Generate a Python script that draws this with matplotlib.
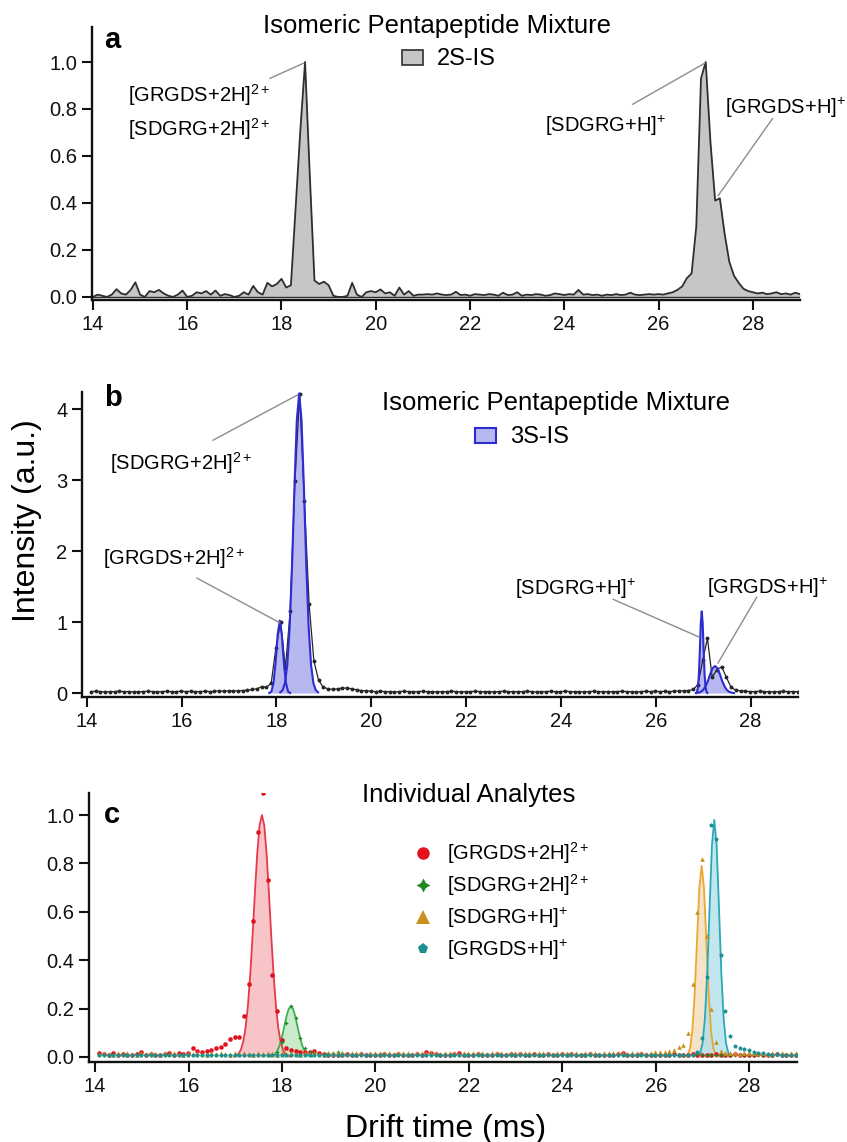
"""Drift-time spectra of the isomeric pentapeptide mixture (three stacked panels)."""

import matplotlib.pyplot as plt
import numpy as np
from matplotlib.lines import Line2D
from matplotlib.patches import Rectangle

plt.rcParams["font.family"] = ["Liberation Sans", "DejaVu Sans"]
plt.rcParams["mathtext.fontset"] = "custom"
plt.rcParams["mathtext.rm"] = "Liberation Sans"
plt.rcParams["mathtext.it"] = "Liberation Sans:italic"
plt.rcParams["mathtext.bf"] = "Liberation Sans:bold"

W, H = 847, 1142

# ---------------------------------------------------------------- panel a data
# 2S-IS trace, one value every 0.1 ms from 14.0 to 29.0
a_time = np.linspace(14.0, 29.0, 151)
a_int = [
    0.000, 0.010, 0.005, 0.000, 0.010, 0.033, 0.015, 0.010, 0.030, 0.062,  # 14.0
    0.010, 0.000, 0.025, 0.020, 0.030, 0.015, 0.005, 0.000, 0.010, 0.027,  # 15.0
    0.000, 0.005, 0.020, 0.015, 0.025, 0.010, 0.027, 0.005, 0.012, 0.008,  # 16.0
    0.000, 0.005, 0.020, 0.010, 0.047, 0.020, 0.010, 0.060, 0.045, 0.055,  # 17.0
    0.077, 0.040, 0.050, 0.380, 0.710, 1.000, 0.520, 0.070, 0.055, 0.065,  # 18.0
    0.050, 0.005, 0.000, 0.000, 0.005, 0.060, 0.010, 0.000, 0.020, 0.025,  # 19.0
    0.020, 0.032, 0.015, 0.020, 0.005, 0.040, 0.010, 0.025, 0.005, 0.010,  # 20.0
    0.010, 0.012, 0.010, 0.015, 0.010, 0.008, 0.010, 0.022, 0.008, 0.010,  # 21.0
    0.005, 0.012, 0.010, 0.008, 0.012, 0.010, 0.005, 0.018, 0.008, 0.010,  # 22.0
    0.020, 0.005, 0.010, 0.008, 0.012, 0.010, 0.005, 0.008, 0.015, 0.012,  # 23.0
    0.008, 0.012, 0.010, 0.030, 0.010, 0.012, 0.008, 0.010, 0.005, 0.010,  # 24.0
    0.008, 0.012, 0.008, 0.010, 0.018, 0.010, 0.008, 0.010, 0.012, 0.010,  # 25.0
    0.012, 0.010, 0.015, 0.020, 0.030, 0.045, 0.080, 0.100, 0.300, 0.930,  # 26.0
    1.000, 0.660, 0.410, 0.420, 0.270, 0.150, 0.090, 0.060, 0.035, 0.025,  # 27.0
    0.020, 0.015, 0.018, 0.012, 0.015, 0.020, 0.012, 0.015, 0.010, 0.018,  # 28.0
    0.012,
]

# ---------------------------------------------------------------- panel b data
# 3S-IS measured trace, every 0.1 ms from 14.09 to 28.99
b_time = np.linspace(14.09, 28.99, 150)
b_int = [
    0.020, 0.025, 0.020, 0.015, 0.020, 0.020, 0.025, 0.020, 0.020, 0.015,  # 14.09
    0.020, 0.020, 0.025, 0.020, 0.015, 0.020, 0.025, 0.020, 0.020, 0.025,  # 15.09
    0.020, 0.025, 0.020, 0.020, 0.025, 0.020, 0.025, 0.030, 0.025, 0.030,  # 16.09
    0.030, 0.030, 0.035, 0.040, 0.050, 0.060, 0.090, 0.080, 0.140, 0.640,  # 17.09
    1.000, 0.350, 1.150, 2.980, 4.210, 2.700, 1.250, 0.450, 0.180, 0.080,  # 18.09
    0.060, 0.050, 0.060, 0.070, 0.070, 0.060, 0.045, 0.035, 0.030, 0.025,  # 19.09
    0.020, 0.025, 0.020, 0.020, 0.015, 0.020, 0.025, 0.020, 0.020, 0.020,  # 20.09
    0.025, 0.020, 0.020, 0.015, 0.020, 0.020, 0.025, 0.020, 0.015, 0.020,  # 21.09
    0.020, 0.025, 0.020, 0.020, 0.020, 0.015, 0.020, 0.025, 0.020, 0.020,  # 22.09
    0.020, 0.020, 0.025, 0.020, 0.015, 0.020, 0.020, 0.025, 0.020, 0.020,  # 23.09
    0.025, 0.020, 0.020, 0.020, 0.015, 0.020, 0.025, 0.020, 0.020, 0.020,  # 24.09
    0.020, 0.020, 0.025, 0.020, 0.020, 0.015, 0.020, 0.025, 0.020, 0.025,  # 25.09
    0.020, 0.025, 0.020, 0.025, 0.030, 0.030, 0.035, 0.050, 0.120, 0.460,  # 26.09
    0.770, 0.220, 0.330, 0.370, 0.220, 0.080, 0.040, 0.030, 0.025, 0.020,  # 27.09
    0.020, 0.025, 0.020, 0.020, 0.015, 0.020, 0.025, 0.020, 0.020, 0.020,  # 28.09
]

# fitted peak profiles (time, intensity) drawn in blue
b_fit1_t = np.linspace(17.85, 18.29, 11)
b_fit1_y = [0.00, 0.02, 0.14, 0.42, 0.82, 1.02, 0.82, 0.42, 0.14, 0.02, 0.00]
b_fit2_t = np.linspace(18.08, 18.88, 17)
b_fit2_y = [0.01, 0.04, 0.14, 0.40, 0.93, 1.80, 2.89, 3.84, 4.22,
            3.84, 2.89, 1.80, 0.93, 0.40, 0.14, 0.04, 0.01]
b_fit3_t = np.linspace(26.85, 27.09, 13)
b_fit3_y = [0.00, 0.02, 0.08, 0.26, 0.60, 0.98, 1.15, 0.98, 0.60, 0.26, 0.08, 0.02, 0.00]
b_fit4_t = np.linspace(26.85, 27.65, 17)
b_fit4_y = [0.000, 0.005, 0.017, 0.043, 0.095, 0.170, 0.270, 0.350, 0.380,
            0.350, 0.270, 0.170, 0.095, 0.043, 0.017, 0.005, 0.000]

# ---------------------------------------------------------------- panel c data
c_time = np.linspace(14.09, 28.99, 150)
c_grgds_2h = [
    0.015, 0.012, 0.010, 0.015, 0.010, 0.012, 0.008, 0.010, 0.012, 0.022,  # 14.09
    0.010, 0.012, 0.008, 0.010, 0.012, 0.015, 0.010, 0.018, 0.012, 0.015,  # 15.09
    0.037, 0.025, 0.020, 0.025, 0.030, 0.035, 0.043, 0.055, 0.074, 0.084,  # 16.09
    0.081, 0.170, 0.300, 0.560, 0.930, 1.090, 0.730, 0.340, 0.190, 0.070,  # 17.09
    0.035, 0.030, 0.025, 0.020, 0.020, 0.022, 0.026, 0.015, 0.012, 0.010,  # 18.09
    0.010, 0.008, 0.010, 0.012, 0.008, 0.010, 0.012, 0.010, 0.008, 0.010,  # 19.09
    0.010, 0.012, 0.008, 0.010, 0.012, 0.010, 0.008, 0.010, 0.012, 0.010,  # 20.09
    0.020, 0.018, 0.012, 0.010, 0.008, 0.010, 0.012, 0.015, 0.010, 0.008,  # 21.09
    0.010, 0.012, 0.010, 0.008, 0.010, 0.012, 0.010, 0.010, 0.012, 0.010,  # 22.09
    0.012, 0.010, 0.008, 0.012, 0.010, 0.010, 0.012, 0.008, 0.010, 0.012,  # 23.09
    0.010, 0.012, 0.010, 0.008, 0.010, 0.012, 0.010, 0.008, 0.010, 0.010,  # 24.09
    0.010, 0.012, 0.015, 0.010, 0.008, 0.010, 0.012, 0.010, 0.008, 0.010,  # 25.09
    0.010, 0.008, 0.010, 0.012, 0.010, 0.008, 0.010, 0.012, 0.010, 0.010,  # 26.09
    0.008, 0.010, 0.012, 0.010, 0.008, 0.010, 0.012, 0.010, 0.008, 0.010,  # 27.09
    0.010, 0.012, 0.010, 0.008, 0.010, 0.012, 0.010, 0.008, 0.010, 0.010,  # 28.09
]
c_sdgrg_2h = [
    0.008, 0.010, 0.006, 0.008, 0.010, 0.008, 0.006, 0.008, 0.010, 0.008,  # 14.09
    0.006, 0.008, 0.010, 0.008, 0.006, 0.008, 0.010, 0.008, 0.006, 0.008,  # 15.09
    0.008, 0.006, 0.008, 0.010, 0.008, 0.006, 0.008, 0.010, 0.008, 0.008,  # 16.09
    0.006, 0.008, 0.010, 0.008, 0.006, 0.008, 0.010, 0.012, 0.020, 0.060,  # 17.09
    0.140, 0.210, 0.160, 0.080, 0.035, 0.020, 0.015, 0.010, 0.012, 0.015,  # 18.09
    0.018, 0.020, 0.015, 0.010, 0.008, 0.010, 0.008, 0.006, 0.008, 0.010,  # 19.09
    0.008, 0.006, 0.008, 0.010, 0.008, 0.006, 0.008, 0.010, 0.008, 0.006,  # 20.09
    0.008, 0.010, 0.008, 0.006, 0.008, 0.010, 0.008, 0.006, 0.008, 0.010,  # 21.09
    0.008, 0.006, 0.008, 0.010, 0.008, 0.006, 0.008, 0.010, 0.008, 0.006,  # 22.09
    0.008, 0.010, 0.008, 0.006, 0.008, 0.010, 0.008, 0.006, 0.008, 0.010,  # 23.09
    0.008, 0.006, 0.008, 0.010, 0.008, 0.006, 0.008, 0.010, 0.008, 0.006,  # 24.09
    0.008, 0.010, 0.008, 0.006, 0.008, 0.010, 0.008, 0.006, 0.008, 0.010,  # 25.09
    0.008, 0.006, 0.008, 0.010, 0.008, 0.006, 0.008, 0.010, 0.012, 0.010,  # 26.09
    0.008, 0.006, 0.008, 0.010, 0.008, 0.006, 0.008, 0.010, 0.008, 0.006,  # 27.09
    0.008, 0.010, 0.008, 0.006, 0.008, 0.010, 0.008, 0.006, 0.008, 0.010,  # 28.09
]
c_sdgrg_h = [
    0.012, 0.015, 0.012, 0.010, 0.015, 0.012, 0.015, 0.012, 0.010, 0.015,  # 14.09
    0.012, 0.015, 0.012, 0.010, 0.015, 0.012, 0.015, 0.012, 0.010, 0.015,  # 15.09
    0.012, 0.015, 0.012, 0.010, 0.015, 0.012, 0.015, 0.012, 0.010, 0.015,  # 16.09
    0.012, 0.015, 0.012, 0.010, 0.015, 0.012, 0.015, 0.012, 0.010, 0.015,  # 17.09
    0.012, 0.015, 0.012, 0.010, 0.015, 0.012, 0.015, 0.012, 0.010, 0.015,  # 18.09
    0.015, 0.018, 0.015, 0.012, 0.015, 0.018, 0.015, 0.012, 0.015, 0.018,  # 19.09
    0.015, 0.018, 0.015, 0.012, 0.015, 0.018, 0.015, 0.012, 0.015, 0.018,  # 20.09
    0.015, 0.018, 0.015, 0.012, 0.015, 0.018, 0.015, 0.012, 0.015, 0.018,  # 21.09
    0.015, 0.018, 0.015, 0.012, 0.015, 0.018, 0.015, 0.012, 0.015, 0.018,  # 22.09
    0.015, 0.018, 0.015, 0.012, 0.015, 0.018, 0.015, 0.012, 0.015, 0.018,  # 23.09
    0.015, 0.018, 0.015, 0.012, 0.015, 0.018, 0.015, 0.012, 0.015, 0.018,  # 24.09
    0.015, 0.018, 0.015, 0.012, 0.015, 0.018, 0.015, 0.012, 0.018, 0.020,  # 25.09
    0.020, 0.022, 0.025, 0.030, 0.040, 0.050, 0.100, 0.300, 0.600, 0.820,  # 26.09
    0.500, 0.200, 0.060, 0.025, 0.015, 0.018, 0.015, 0.012, 0.015, 0.018,  # 27.09
    0.015, 0.018, 0.015, 0.012, 0.015, 0.018, 0.015, 0.012, 0.015, 0.018,  # 28.09
]
c_grgds_h = [
    0.008, 0.006, 0.008, 0.010, 0.008, 0.006, 0.008, 0.010, 0.008, 0.006,  # 14.09
    0.008, 0.010, 0.008, 0.006, 0.008, 0.010, 0.008, 0.006, 0.008, 0.010,  # 15.09
    0.008, 0.006, 0.008, 0.010, 0.008, 0.006, 0.008, 0.010, 0.008, 0.006,  # 16.09
    0.008, 0.010, 0.008, 0.006, 0.008, 0.010, 0.008, 0.006, 0.008, 0.010,  # 17.09
    0.008, 0.006, 0.008, 0.010, 0.008, 0.006, 0.008, 0.010, 0.008, 0.006,  # 18.09
    0.008, 0.010, 0.008, 0.006, 0.008, 0.010, 0.008, 0.006, 0.008, 0.010,  # 19.09
    0.008, 0.006, 0.008, 0.010, 0.008, 0.006, 0.008, 0.010, 0.008, 0.006,  # 20.09
    0.008, 0.010, 0.008, 0.006, 0.008, 0.010, 0.008, 0.006, 0.008, 0.010,  # 21.09
    0.008, 0.006, 0.008, 0.010, 0.008, 0.006, 0.008, 0.010, 0.008, 0.006,  # 22.09
    0.008, 0.010, 0.008, 0.006, 0.008, 0.010, 0.008, 0.006, 0.008, 0.010,  # 23.09
    0.008, 0.006, 0.008, 0.010, 0.008, 0.006, 0.008, 0.010, 0.008, 0.006,  # 24.09
    0.008, 0.010, 0.008, 0.006, 0.008, 0.010, 0.008, 0.006, 0.008, 0.010,  # 25.09
    0.008, 0.006, 0.008, 0.010, 0.008, 0.006, 0.008, 0.010, 0.020, 0.080,  # 26.09
    0.330, 0.960, 0.900, 0.420, 0.190, 0.085, 0.045, 0.037, 0.032, 0.027,  # 27.09
    0.022, 0.018, 0.015, 0.012, 0.010, 0.012, 0.010, 0.008, 0.010, 0.008,  # 28.09
]

# fitted profiles for the individual analytes
c_fit_red_t = np.linspace(16.97, 18.17, 25)
c_fit_red_y = [0.002, 0.005, 0.013, 0.030, 0.063, 0.120, 0.211, 0.339, 0.500, 0.678,
               0.841, 0.958, 1.000, 0.958, 0.841, 0.678, 0.500, 0.339, 0.211, 0.120,
               0.063, 0.030, 0.013, 0.005, 0.002]
c_fit_green_t = np.linspace(17.74, 18.64, 19)
c_fit_green_y = [0.001, 0.004, 0.009, 0.021, 0.043, 0.076, 0.118, 0.163, 0.197, 0.210,
                 0.197, 0.163, 0.118, 0.076, 0.043, 0.021, 0.009, 0.004, 0.001]
c_fit_orange_t = np.linspace(26.63, 27.33, 15)
c_fit_orange_y = [0.002, 0.009, 0.035, 0.107, 0.260, 0.480, 0.700, 0.790,
                  0.700, 0.480, 0.260, 0.107, 0.035, 0.009, 0.002]
c_fit_teal_t = np.linspace(26.90, 27.60, 15)
c_fit_teal_y = [0.004, 0.017, 0.058, 0.160, 0.350, 0.620, 0.875, 0.980,
                0.875, 0.620, 0.350, 0.160, 0.058, 0.017, 0.004]

c_labels = [r"[GRGDS+2H]$^{2+}$", r"[SDGRG+2H]$^{2+}$", r"[SDGRG+H]$^{+}$", r"[GRGDS+H]$^{+}$"]

LEADER = "#8c8c8c"
LABEL_SIZE = 14.5


def fx(px):
    return px / W


def fy(py):
    return 1 - py / H


def style_axes(ax, xlim, ylim, yticks, fmt):
    ax.set_xlim(*xlim)
    ax.set_ylim(*ylim)
    ax.set_xticks(range(14, 29, 2))
    ax.set_yticks(yticks)
    ax.set_yticklabels([fmt.format(v) for v in yticks])
    for side in ("top", "right"):
        ax.spines[side].set_visible(False)
    for side in ("left", "bottom"):
        ax.spines[side].set_linewidth(1.7)
        ax.spines[side].set_color("#111111")
    ax.tick_params(direction="out", length=7, width=1.5, labelsize=14.5, pad=3.5, colors="#111111")


def leader(ax, start, end):
    ax.annotate("", xy=end, xytext=start,
                arrowprops=dict(arrowstyle="-", color=LEADER, lw=1.0, shrinkA=0, shrinkB=0))


fig = plt.figure(figsize=(W / 100, H / 100), dpi=100)
ax_a = fig.add_axes([fx(92), fy(300), 708 / W, 273 / H])
ax_b = fig.add_axes([fx(82), fy(697), 716 / W, 305 / H])
ax_c = fig.add_axes([fx(89), fy(1062), 708 / W, 269 / H])

# ---- panel a
ax_a.fill_between(a_time, 0, a_int, color="#c6c6c6", lw=0, zorder=1)
ax_a.plot(a_time, a_int, color="#2e2e2e", lw=1.3, zorder=2)
ax_a.axhline(0, color="#2e2e2e", lw=1.0, zorder=2)
style_axes(ax_a, (13.98, 29.0), (-0.013, 1.149), [0, 0.2, 0.4, 0.6, 0.8, 1.0], "{:.1f}")

ax_a.text(14.74, 0.83, r"[GRGDS+2H]$^{2+}$", fontsize=LABEL_SIZE)
ax_a.text(14.74, 0.685, r"[SDGRG+2H]$^{2+}$", fontsize=LABEL_SIZE)
ax_a.text(23.59, 0.70, r"[SDGRG+H]$^{+}$", fontsize=LABEL_SIZE)
ax_a.text(27.40, 0.78, r"[GRGDS+H]$^{+}$", fontsize=LABEL_SIZE)
leader(ax_a, (17.75, 0.93), (18.47, 0.995))
leader(ax_a, (25.45, 0.82), (26.98, 0.995))
leader(ax_a, (28.42, 0.76), (27.26, 0.43))

# ---- panel b
fits_b = [(b_fit1_t, b_fit1_y), (b_fit2_t, b_fit2_y), (b_fit3_t, b_fit3_y), (b_fit4_t, b_fit4_y)]
for t, y in fits_b:
    ax_b.fill_between(t, 0, y, color="#b8b8f0", lw=0, zorder=1)
ax_b.plot(b_time, b_int, color="#262626", lw=0.9, marker="o", ms=1.8, zorder=2)
for t, y in fits_b:
    ax_b.plot(t, y, color="#2c2cd2", lw=1.5, zorder=3)
style_axes(ax_b, (13.9, 29.0), (-0.056, 4.24), [0, 1, 2, 3, 4], "{:d}")

ax_b.text(14.49, 3.14, r"[SDGRG+2H]$^{2+}$", fontsize=LABEL_SIZE)
ax_b.text(14.34, 1.80, r"[GRGDS+2H]$^{2+}$", fontsize=LABEL_SIZE)
ax_b.text(23.03, 1.38, r"[SDGRG+H]$^{+}$", fontsize=LABEL_SIZE)
ax_b.text(27.08, 1.39, r"[GRGDS+H]$^{+}$", fontsize=LABEL_SIZE)
leader(ax_b, (16.66, 3.56), (18.45, 4.20))
leader(ax_b, (16.32, 1.62), (18.07, 0.99))
leader(ax_b, (25.10, 1.32), (26.91, 0.79))
leader(ax_b, (28.13, 1.35), (27.31, 0.42))

# ---- panel c
c_series = [
    (c_grgds_2h, c_fit_red_t, c_fit_red_y, "#e3101c", "#e8384c", "#f6b6ba", "o"),
    (c_sdgrg_2h, c_fit_green_t, c_fit_green_y, "#1f8a1f", "#3db14f", "#bde6bd", (4, 1, 0)),
    (c_sdgrg_h, c_fit_orange_t, c_fit_orange_y, "#c8901e", "#eaa833", "#f2dcb9", "^"),
    (c_grgds_h, c_fit_teal_t, c_fit_teal_y, "#1a9090", "#2aa9b8", "#b2e0ea", "p"),
]
for _, ft, fyv, _, _, fill, _ in c_series:
    ax_c.fill_between(ft, 0, fyv, color=fill, alpha=0.8, lw=0, zorder=1)
for _, ft, fyv, _, line, _, _ in c_series:
    ax_c.plot(ft, fyv, color=line, lw=1.3, zorder=2)
for vals, _, _, dot, _, _, mk in c_series:
    ax_c.plot(c_time, vals, ls="none", marker=mk, ms=3.3, color=dot, mew=0, zorder=3)
style_axes(ax_c, (13.87, 29.02), (-0.021, 1.091), [0, 0.2, 0.4, 0.6, 0.8, 1.0], "{:.1f}")

# legend of panel c, drawn by hand to match the original spacing
legend_rows = [853, 885, 917, 949]
legend_sizes = [9, 10, 9.5, 8]
for (vals, _, _, dot, _, _, mk), label, row, size in zip(c_series, c_labels, legend_rows, legend_sizes):
    fig.add_artist(Line2D([fx(423)], [fy(row)], transform=fig.transFigure, ls="none",
                          marker=mk, ms=size, color=dot, mew=0))
    fig.text(fx(447), fy(row + 7), label, fontsize=LABEL_SIZE, va="baseline")

# ---- titles, legends of panels a/b, panel letters, axis labels
fig.text(fx(437), fy(33), "Isomeric Pentapeptide Mixture", fontsize=18.5, ha="center", va="baseline")
fig.add_artist(Rectangle((fx(402), fy(65)), 21 / W, 15 / H, transform=fig.transFigure,
                         facecolor="#c6c6c6", edgecolor="#2e2e2e", lw=1.2))
fig.text(fx(437), fy(65), "2S-IS", fontsize=17, va="baseline")

fig.text(fx(556), fy(410), "Isomeric Pentapeptide Mixture", fontsize=18.5, ha="center", va="baseline")
fig.add_artist(Rectangle((fx(475), fy(443)), 21 / W, 15 / H, transform=fig.transFigure,
                         facecolor="#b8b8f0", edgecolor="#2c2cd2", lw=1.5))
fig.text(fx(510), fy(443), "3S-IS", fontsize=17, va="baseline")

fig.text(fx(469), fy(802), "Individual Analytes", fontsize=18.5, ha="center", va="baseline")

for letter, px, py in (("a", 104, 48), ("b", 104, 406), ("c", 104, 823)):
    fig.text(fx(px), fy(py), letter, fontsize=21, fontweight="bold", va="baseline")

fig.text(fx(27), fy(521), "Intensity (a.u.)", fontsize=23, rotation=90, ha="center", va="center")
fig.text(fx(446), fy(1137), "Drift time (ms)", fontsize=23, ha="center", va="baseline")

fig.savefig("out.png", dpi=100)
